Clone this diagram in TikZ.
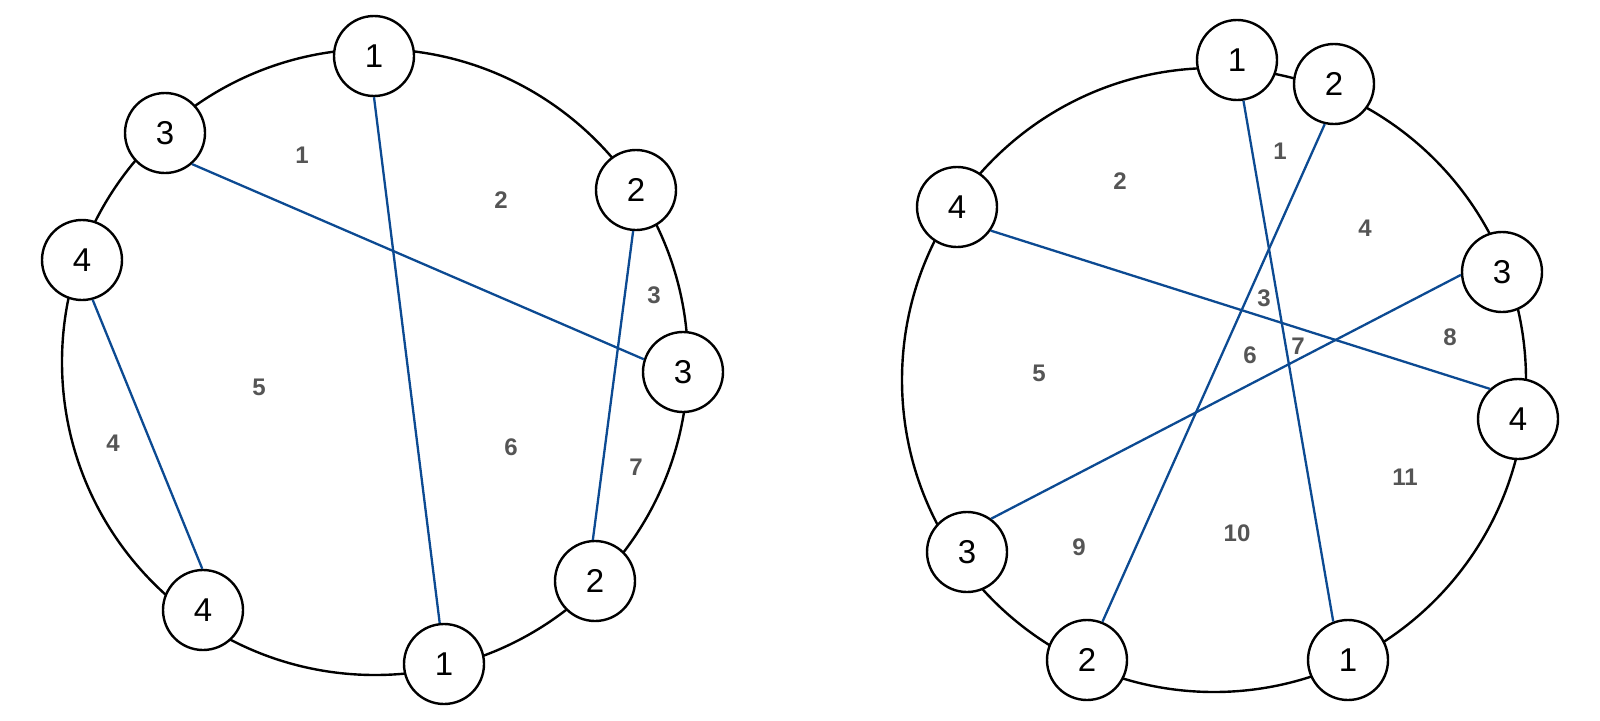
\documentclass[tikz,border=0pt]{standalone}
\usepackage{fontspec}
\setmainfont{Liberation Sans}
\definecolor{chordblue}{RGB}{12,74,146}
\definecolor{labgray}{RGB}{85,85,85}
\begin{document}
\begin{tikzpicture}[x=1pt,y=-1pt,
  vtx/.style={circle,draw=black,line width=2.4pt,fill=white,minimum size=80pt,inner sep=0pt,font=\fontsize{33}{36}\selectfont},
  ring/.style={draw=black,line width=2.4pt},
  chordline/.style={draw=chordblue,line width=2.3pt},
  reg/.style={text=labgray,font=\fontsize{24}{26}\selectfont\bfseries,inner sep=0pt}]
\useasboundingbox[fill=white] (0,0) rectangle (1600,720);
% rings
\draw[ring] (375,362) circle[radius=313pt];
\draw[ring] (1214,380) circle[radius=312pt];
% left nodes
\node[vtx] (La1) at (374,56) {1};
\node[vtx] (La3) at (165,133) {3};
\node[vtx] (La2) at (636,190) {2};
\node[vtx] (La4) at (82,260) {4};
\node[vtx] (Lb3) at (683,372) {3};
\node[vtx] (Lb4) at (203,610) {4};
\node[vtx] (Lb2) at (595,581) {2};
\node[vtx] (Lb1) at (444,664) {1};
% right nodes
\node[vtx] (Ra1) at (1237,60) {1};
\node[vtx] (Ra2) at (1334,84) {2};
\node[vtx] (Ra4) at (957,207) {4};
\node[vtx] (Ra3) at (1502,272) {3};
\node[vtx] (Rb4) at (1518,419) {4};
\node[vtx] (Rb3) at (967,552) {3};
\node[vtx] (Rb2) at (1087,660) {2};
\node[vtx] (Rb1) at (1348,660) {1};
% chords
\draw[chordline] (La1.-90) -- (Lb1.96);
\draw[chordline] (La3.-49) -- (Lb3.162);
\draw[chordline] (La2.-94) -- (Lb2.93);
\draw[chordline] (La4.-75) -- (Lb4.91);
\draw[chordline] (Ra1.-81) -- (Rb1.111);
\draw[chordline] (Ra2.-103) -- (Rb2.68);
\draw[chordline] (Ra4.-35) -- (Rb4.133);
\draw[chordline] (Ra3.-176) -- (Rb3.54);
% region labels left
\node[reg] (l1) at (302,155) {1};
\node[reg] (l2) at (501,200) {2};
\node[reg] (l3) at (654,295) {3};
\node[reg] (l5) at (259,387) {5};
\node[reg] (l4) at (113,443) {4};
\node[reg] (l6) at (511,447) {6};
\node[reg] (l7) at (636,467) {7};
% region labels right
\node[reg] (r1) at (1280,151) {1};
\node[reg] (r2) at (1120,181) {2};
\node[reg] (r4) at (1365,228) {4};
\node[reg] (r3) at (1264,298) {3};
\node[reg] (r6) at (1250,355) {6};
\node[reg] (r7) at (1298,346) {7};
\node[reg] (r8) at (1450,337) {8};
\node[reg] (r5) at (1039,373) {5};
\node[reg] (r11) at (1405,477) {11};
\node[reg] (r10) at (1237,533) {10};
\node[reg] (r9) at (1079,547) {9};
\end{tikzpicture}
\end{document}
